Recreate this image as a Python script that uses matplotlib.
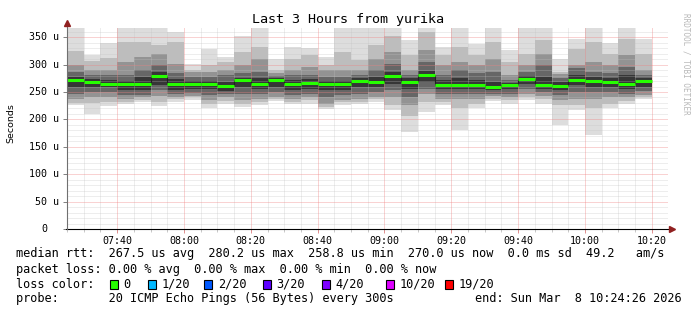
import matplotlib
matplotlib.use('Agg')
import matplotlib.pyplot as plt
import matplotlib.transforms as mtransforms
from matplotlib.patches import Rectangle

W, H = 697, 310
MONO = 'DejaVu Sans Mono'

# 5 minute steps (start of each step)
times = ['07:25', '07:30', '07:35', '07:40', '07:45', '07:50', '07:55',
         '08:00', '08:05', '08:10', '08:15', '08:20', '08:25', '08:30',
         '08:35', '08:40', '08:45', '08:50', '08:55', '09:00', '09:05',
         '09:10', '09:15', '09:20', '09:25', '09:30', '09:35', '09:40',
         '09:45', '09:50', '09:55', '10:00', '10:05', '10:10', '10:15']

# median rtt (us)
median = [272.4, 267.9, 264.8, 264.3, 264.8, 279.0, 263.8, 264.8, 263.8, 261.8,
          271.4, 265.3, 271.9, 263.8, 266.9, 264.3, 264.8, 270.9, 268.4, 279.4,
          268.4, 280.2, 263.3, 262.3, 263.3, 258.8, 262.3, 274.4, 262.3, 260.5,
          271.9, 270.2, 267.9, 264.3, 270.0]

# smoke: sorted pings, outer pair first (lo / hi) then inner pairs
ping_hi = [400, 318, 339, 400, 400, 400, 360, 302, 329, 314, 353, 400, 310, 332, 330,
           314, 400, 400, 400, 400, 344, 400, 332, 400, 338, 400, 326, 400, 400, 311,
           347, 400, 340, 400, 347]
ping_u2 = [324, 307, 312, 341, 341, 335, 341, 291, 299, 305, 323, 332, 290, 311, 317,
           299, 323, 308, 335, 353, 317, 360, 317, 332, 317, 341, 305, 320, 344, 287,
           329, 341, 320, 347, 320]
ping_u3 = [299, 291, 291, 305, 314, 320, 302, 287, 287, 291, 299, 311, 284, 291, 296,
           290, 291, 291, 311, 323, 291, 326, 299, 305, 299, 311, 281, 299, 320, 282,
           299, 305, 299, 317, 291]
ping_u4 = [287, 281, 281, 281, 291, 299, 284, 278, 278, 281, 284, 287, 279, 281, 281,
           278, 278, 281, 291, 302, 281, 305, 281, 290, 284, 287, 271, 287, 299, 276,
           293, 287, 284, 296, 281]
ping_u5 = [278, 273, 271, 270, 278, 287, 273, 270, 270, 268, 276, 275, 276, 271, 273,
           270, 270, 275, 278, 287, 275, 288, 271, 275, 271, 268, 267, 279, 278, 268,
           281, 278, 275, 281, 275]
ping_l5 = [259, 259, 259, 253, 253, 262, 253, 256, 256, 252, 259, 256, 259, 253, 256,
           253, 253, 259, 259, 265, 256, 268, 256, 256, 256, 253, 256, 265, 256, 253,
           262, 259, 259, 256, 259]
ping_l4 = [247, 250, 250, 244, 245, 253, 247, 249, 244, 247, 247, 247, 250, 244, 247,
           241, 244, 247, 250, 253, 241, 256, 247, 247, 247, 247, 247, 256, 250, 244,
           250, 250, 250, 247, 251]
ping_l3 = [238, 240, 241, 237, 240, 243, 241, 243, 235, 241, 235, 238, 241, 237, 240,
           229, 235, 237, 241, 241, 226, 247, 238, 238, 238, 243, 241, 247, 243, 235,
           238, 238, 241, 240, 244]
ping_l2 = [230, 230, 232, 232, 236, 232, 237, 240, 229, 233, 229, 232, 238, 232, 235,
           223, 232, 232, 237, 226, 207, 232, 232, 220, 229, 238, 235, 241, 237, 226,
           226, 220, 229, 233, 241]
ping_lo = [226, 210, 225, 229, 232, 225, 232, 235, 220, 229, 223, 227, 233, 229, 229,
           219, 227, 229, 232, 217, 177, 213, 227, 180, 221, 233, 229, 235, 229, 189,
           217, 171, 220, 229, 237]

xtick_labels = ['07:40', '08:00', '08:20', '08:40', '09:00', '09:20', '09:40', '10:00', '10:20']
ytick_vals = [0, 50, 100, 150, 200, 250, 300, 350]
ytick_labels = ['0', '50 u', '100 u', '150 u', '200 u', '250 u', '300 u', '350 u']

loss_labels = ['0', '1/20', '2/20', '3/20', '4/20', '10/20', '19/20']
loss_colors = ['#26ff00', '#00b8ff', '#0059ff', '#5e00ff', '#7e00ff', '#dd00ff', '#ff0000']

legend_lines = [
    'median rtt:  267.5 us avg  280.2 us max  258.8 us min  270.0 us now  0.0 ms sd  49.2   am/s',
    'packet loss: 0.00 % avg  0.00 % max  0.00 % min  0.00 % now',
    'loss color:',
    'probe:       20 ICMP Echo Pings (56 Bytes) every 300s',
]
end_text = 'end: Sun Mar  8 10:24:26 2026'


def to_min(s):
    h, m = s.split(':')
    return int(h) * 60 + int(m) - 7 * 60


left = [to_min(t) for t in times]

fig = plt.figure(figsize=(W / 100, H / 100), dpi=100)
fig.patch.set_facecolor('white')
ax = fig.add_axes([67 / W, (H - 229) / H, 601 / W, 201.5 / H])
ax.set_xlim(25.0, 204.83)
ax.set_ylim(0, 367.7)
for s in ax.spines.values():
    s.set_visible(False)

# smoke layers, light outside -> dark inside
layers = [(ping_lo, ping_hi, '#dddddd'),
          (ping_l2, ping_u2, '#bdbdbd'),
          (ping_l3, ping_u3, '#939393'),
          (ping_l4, ping_u4, '#666666'),
          (ping_l5, ping_u5, '#363636')]
for lo, hi, c in layers:
    ax.bar(left, [h - l for l, h in zip(lo, hi)], bottom=lo, width=5, align='edge',
           color=c, linewidth=0, zorder=1)

# grid (on top of smoke, like rrdtool)
dots = (0, (1, 1))
for m in range(25, 205, 5):
    if m % 20 == 0:
        ax.axvline(m, color='#f08080', alpha=0.7, lw=0.72, ls=dots, zorder=3)
    else:
        ax.axvline(m, color='#c0c0c0', alpha=0.55, lw=0.72, ls=dots, zorder=2)
for v in range(10, 370, 10):
    if v % 50 == 0:
        ax.axhline(v, color='#f08080', alpha=0.7, lw=0.72, ls=dots, zorder=3)
    else:
        ax.axhline(v, color='#c0c0c0', alpha=0.55, lw=0.72, ls=dots, zorder=2)

# median line
ax.vlines(left[1:], median[:-1], median[1:], color='#202020', lw=0.8, zorder=4)
ax.hlines(median, left, [x + 5 for x in left], color=loss_colors[0], lw=2.2, zorder=5)

# axes with arrows
ax.plot([-0.002, 1.009], [0, 0], transform=ax.transAxes, color='black', lw=0.8, clip_on=False, zorder=6)
ax.plot([0, 0], [0, 1.012], transform=ax.transAxes, color='#707070', lw=0.8, clip_on=False, zorder=6)
ax.plot([1.006], [0], transform=ax.transAxes, marker='>', ms=4.5, color='#902020', clip_on=False, zorder=7)
ax.plot([0], [1.02], transform=ax.transAxes, marker='^', ms=4.5, color='#902020', clip_on=False, zorder=7)

ax.set_xticks([to_min(t) for t in xtick_labels])
ax.set_xticklabels(xtick_labels, fontfamily=MONO, fontsize=7.2)
ax.set_xticks(range(25, 205, 5), minor=True)
ax.tick_params(axis='x', which='major', length=3, width=0.7, color='#e09090', pad=2)
ax.tick_params(axis='x', which='minor', length=2, width=0.7, color='#c8c8c8')
ax.set_yticks(ytick_vals)
ax.tick_params(axis='y', length=3, width=0.7, color='#808080', labelleft=False)

ytrans = mtransforms.blended_transform_factory(fig.transFigure, ax.transData)
for v, lab in zip(ytick_vals, ytick_labels):
    xr = 59 if lab != '0' else 47
    ax.text(xr / W, v, lab, transform=ytrans, ha='right', va='center',
            fontfamily=MONO, fontsize=7.2, color='black')

fig.text(0.5, 1 - 19.5 / H, 'Last 3 Hours from yurika', ha='center', va='center',
         fontfamily=MONO, fontsize=9.6)
fig.text(11 / W, 1 - 123 / H, 'Seconds', rotation=90, ha='center', va='center',
         fontfamily='DejaVu Sans', fontsize=6.8)
fig.text(686 / W, 1 - 64 / H, 'RRDTOOL / TOBI OETIKER', rotation=270, ha='center', va='center',
         fontfamily=MONO, fontsize=5.5, color='#b8b8b8')

# legend
line_y = [254, 269, 284, 298.5]
for txt, y in zip(legend_lines, line_y):
    fig.text(16 / W, 1 - y / H, txt, ha='left', va='center', fontfamily=MONO, fontsize=8.55)
fig.text(682 / W, 1 - line_y[3] / H, end_text, ha='right', va='center', fontfamily=MONO, fontsize=8.55)

box_x = [109.5, 147.5, 204, 262.5, 321.5, 386, 445]
for bx, lab, c in zip(box_x, loss_labels, loss_colors):
    fig.patches.append(Rectangle((bx / W, 1 - (line_y[2] + 4.5) / H), 8 / W, 9 / H,
                                 transform=fig.transFigure, facecolor=c,
                                 edgecolor='black', linewidth=0.8))
    fig.text((bx + 14) / W, 1 - line_y[2] / H, lab, ha='left', va='center',
             fontfamily=MONO, fontsize=8.55)

fig.savefig('out.png', dpi=100, facecolor='white')
